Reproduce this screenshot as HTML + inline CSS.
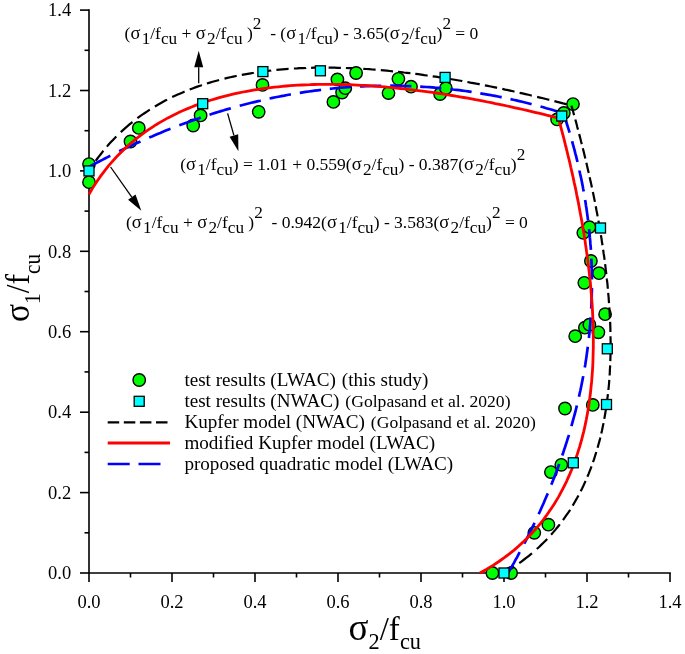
<!DOCTYPE html>
<html><head><meta charset="utf-8"><title>Biaxial failure envelope</title>
<style>
html,body{margin:0;padding:0;background:#fff;}
svg{display:block;font-family:"Liberation Serif","Times New Roman",serif;fill:#000;}
.tk{font-size:18.5px;}
.lg{font-size:19.13px;}
</style></head><body>
<svg width="685" height="654" viewBox="0 0 685 654">
<rect width="685" height="654" fill="#fff"/>

<g stroke="#000" stroke-width="1.6" fill="none" stroke-linecap="butt">
<path d="M89.0 9.3 V573.0 H670.8"/>
<path d="M89.0 573.0 v9.0"/>
<path d="M89.0 573.0 h-9.0"/>
<path d="M130.5 573.0 v4.5"/>
<path d="M89.0 532.8 h-4.5"/>
<path d="M172.0 573.0 v9.0"/>
<path d="M89.0 492.6 h-9.0"/>
<path d="M213.5 573.0 v4.5"/>
<path d="M89.0 452.4 h-4.5"/>
<path d="M255.0 573.0 v9.0"/>
<path d="M89.0 412.2 h-9.0"/>
<path d="M296.5 573.0 v4.5"/>
<path d="M89.0 371.9 h-4.5"/>
<path d="M338.0 573.0 v9.0"/>
<path d="M89.0 331.7 h-9.0"/>
<path d="M379.5 573.0 v4.5"/>
<path d="M89.0 291.5 h-4.5"/>
<path d="M421.0 573.0 v9.0"/>
<path d="M89.0 251.3 h-9.0"/>
<path d="M462.5 573.0 v4.5"/>
<path d="M89.0 211.1 h-4.5"/>
<path d="M504.0 573.0 v9.0"/>
<path d="M89.0 170.9 h-9.0"/>
<path d="M545.5 573.0 v4.5"/>
<path d="M89.0 130.7 h-4.5"/>
<path d="M587.0 573.0 v9.0"/>
<path d="M89.0 90.5 h-9.0"/>
<path d="M628.5 573.0 v4.5"/>
<path d="M89.0 50.3 h-4.5"/>
<path d="M670.0 573.0 v9.0"/>
<path d="M89.0 10.1 h-9.0"/>
</g>
<g class="tk">
<text x="89.0" y="607.6" text-anchor="middle">0.0</text>
<text x="71.2" y="579.2" text-anchor="end">0.0</text>
<text x="172.0" y="607.6" text-anchor="middle">0.2</text>
<text x="71.2" y="498.8" text-anchor="end">0.2</text>
<text x="255.0" y="607.6" text-anchor="middle">0.4</text>
<text x="71.2" y="418.4" text-anchor="end">0.4</text>
<text x="338.0" y="607.6" text-anchor="middle">0.6</text>
<text x="71.2" y="337.9" text-anchor="end">0.6</text>
<text x="421.0" y="607.6" text-anchor="middle">0.8</text>
<text x="71.2" y="257.5" text-anchor="end">0.8</text>
<text x="504.0" y="607.6" text-anchor="middle">1.0</text>
<text x="71.2" y="177.1" text-anchor="end">1.0</text>
<text x="587.0" y="607.6" text-anchor="middle">1.2</text>
<text x="71.2" y="96.7" text-anchor="end">1.2</text>
<text x="670.0" y="607.6" text-anchor="middle">1.4</text>
<text x="71.2" y="16.3" text-anchor="end">1.4</text>
</g>
<text x="348.6" y="640.2" font-size="33.00" xml:space="preserve" id="xt"><tspan dy="0.00"><tspan font-size="37.00">σ</tspan></tspan><tspan font-size="22.30" dy="8.70">2</tspan><tspan dy="-8.70">/f</tspan><tspan font-size="22.30" dy="8.70">cu</tspan></text>
<g transform="translate(28.8 322) rotate(-90) scale(0.93 1)"><text x="0.0" y="0.0" font-size="34.00" xml:space="preserve" id="yt"><tspan dy="0.00"><tspan font-size="36.00">σ</tspan></tspan><tspan font-size="23.00" dy="11.00">1</tspan><tspan dy="-11.00">/f</tspan><tspan font-size="23.00" dy="11.00">cu</tspan></text></g>
<path d="M89.0 170.9 L90.6 168.4 L92.3 165.9 L92.7 165.2 M95.7 160.9 L97.4 158.5 L99.2 156.1 L101.1 153.7 L102.9 151.4 L103.4 150.8 M106.9 146.6 L108.9 144.3 L110.9 142.1 L113.0 139.9 L115.1 137.8 L116.3 136.5 M120.8 132.1 L123.0 130.1 L125.2 128.1 L127.5 126.2 L129.8 124.2 L132.1 122.3 L132.5 122.0 M137.4 118.2 L139.8 116.4 L142.3 114.7 L144.8 113.0 L147.3 111.3 L149.8 109.6 M154.9 106.5 L157.5 105.0 L160.1 103.5 L162.7 102.0 L165.3 100.6 L167.1 99.7 M172.2 97.1 L175.0 95.8 L177.7 94.6 L180.4 93.4 L183.2 92.2 L184.6 91.6 M189.7 89.6 L192.5 88.5 L195.3 87.4 L198.1 86.4 L200.9 85.5 L201.9 85.1 M206.9 83.5 L209.8 82.6 L212.6 81.8 L215.5 81.0 L218.4 80.2 L219.1 80.0 M224.5 78.6 L227.4 77.9 L230.3 77.2 L233.2 76.6 L236.2 76.0 L236.7 75.9 M241.8 74.8 L244.8 74.3 L247.7 73.8 L250.7 73.3 L253.6 72.8 L253.9 72.7 M259.1 72.0 L262.0 71.6 L265.0 71.2 L268.0 70.8 L271.0 70.5 L271.2 70.4 M276.4 69.9 L279.4 69.6 L282.4 69.3 L285.4 69.1 L288.4 68.9 L288.6 68.9 M293.9 68.5 L296.9 68.4 L299.9 68.2 L302.9 68.1 L305.9 68.0 L306.1 67.9 M311.1 67.8 L314.1 67.7 L317.1 67.7 L320.1 67.6 L323.1 67.6 L323.4 67.6 M328.6 67.6 L331.6 67.7 L334.6 67.7 L337.6 67.8 L340.6 67.8 L340.9 67.8 M345.9 68.0 L348.9 68.1 L351.9 68.2 L354.9 68.4 L357.8 68.5 L358.1 68.6 M363.3 68.9 L366.3 69.0 L369.3 69.2 L372.3 69.5 L375.3 69.7 L375.6 69.7 M380.8 70.1 L383.8 70.4 L386.8 70.7 L389.8 71.0 L392.7 71.3 L393.0 71.3 M398.0 71.8 L400.9 72.1 L403.9 72.5 L406.9 72.8 L409.9 73.2 L410.4 73.2 M415.3 73.9 L418.3 74.2 L421.3 74.6 L424.3 75.1 L427.2 75.5 L427.7 75.5 M432.7 76.3 L435.6 76.7 L438.6 77.2 L441.6 77.6 L444.5 78.1 L445.0 78.2 M450.2 79.0 L453.2 79.5 L456.1 80.0 L459.1 80.5 L462.0 81.0 L462.3 81.1 M467.4 82.0 L470.4 82.6 L473.3 83.1 L476.3 83.7 L479.2 84.2 L479.7 84.3 M484.9 85.3 L487.8 85.9 L490.8 86.5 L493.7 87.1 L496.6 87.7 L497.1 87.8 M502.3 88.9 L505.2 89.6 L508.1 90.2 L511.1 90.8 L514.0 91.5 L514.5 91.6 M519.6 92.8 L522.5 93.4 L525.4 94.1 L528.4 94.8 L531.3 95.5 L531.8 95.6 M537.1 96.9 L540.0 97.6 L543.0 98.3 L545.9 99.0 L548.8 99.7 L549.3 99.8 M554.4 101.1 L557.3 101.9 L560.2 102.6 L563.1 103.4 L566.0 104.1 L566.7 104.3" fill="none" stroke="#000" stroke-width="2.2"/>
<g fill="#0f0" stroke="#000" stroke-width="1.4">
<circle cx="89.0" cy="164.1" r="6.2"/>
<circle cx="511.1" cy="573.0" r="6.2"/>
<circle cx="89.0" cy="182.2" r="6.2"/>
<circle cx="492.4" cy="573.0" r="6.2"/>
<circle cx="130.5" cy="141.5" r="6.2"/>
<circle cx="534.3" cy="532.8" r="6.2"/>
<circle cx="138.8" cy="127.9" r="6.2"/>
<circle cx="548.4" cy="524.7" r="6.2"/>
<circle cx="193.2" cy="125.5" r="6.2"/>
<circle cx="550.9" cy="472.1" r="6.2"/>
<circle cx="200.6" cy="115.4" r="6.2"/>
<circle cx="561.3" cy="464.8" r="6.2"/>
<circle cx="258.7" cy="111.8" r="6.2"/>
<circle cx="565.0" cy="408.5" r="6.2"/>
<circle cx="262.5" cy="84.9" r="6.2"/>
<circle cx="592.8" cy="404.9" r="6.2"/>
<circle cx="333.4" cy="101.9" r="6.2"/>
<circle cx="575.2" cy="336.2" r="6.2"/>
<circle cx="337.4" cy="79.4" r="6.2"/>
<circle cx="598.4" cy="332.3" r="6.2"/>
<circle cx="342.1" cy="92.5" r="6.2"/>
<circle cx="584.9" cy="327.7" r="6.2"/>
<circle cx="345.3" cy="88.2" r="6.2"/>
<circle cx="589.4" cy="324.7" r="6.2"/>
<circle cx="356.1" cy="73.0" r="6.2"/>
<circle cx="605.1" cy="314.2" r="6.2"/>
<circle cx="388.5" cy="93.1" r="6.2"/>
<circle cx="584.3" cy="282.8" r="6.2"/>
<circle cx="398.4" cy="78.8" r="6.2"/>
<circle cx="599.0" cy="273.2" r="6.2"/>
<circle cx="411.0" cy="86.7" r="6.2"/>
<circle cx="590.9" cy="261.0" r="6.2"/>
<circle cx="440.1" cy="94.1" r="6.2"/>
<circle cx="583.3" cy="232.8" r="6.2"/>
<circle cx="445.9" cy="88.2" r="6.2"/>
<circle cx="589.4" cy="227.2" r="6.2"/>
<circle cx="557.1" cy="119.4" r="6.2"/>
<circle cx="563.8" cy="113.0" r="6.2"/>
<circle cx="573.0" cy="104.1" r="6.2"/>
</g>
<path d="M504.0 573.0 L506.6 571.4 L509.1 569.9 L511.7 568.3 L514.2 566.6 M519.3 563.1 L521.7 561.3 L524.1 559.5 L526.5 557.7 L528.9 555.8 L531.2 553.9 L532.0 553.3 M536.8 549.0 L539.1 547.0 L541.2 544.9 L543.4 542.8 L545.5 540.7 L547.2 538.9 M551.1 534.7 L553.1 532.4 L555.1 530.1 L557.0 527.8 L558.9 525.5 L559.8 524.3 M563.0 520.1 L564.7 517.7 L566.4 515.2 L568.1 512.8 L569.8 510.3 L570.1 509.8 M572.7 505.6 L574.2 503.0 L575.7 500.4 L577.2 497.8 L578.5 495.4 M580.7 491.2 L582.1 488.5 L583.4 485.8 L584.6 483.1 L585.6 481.0 M587.4 476.7 L588.6 473.9 L589.7 471.1 L590.8 468.3 L591.5 466.4 M593.0 462.2 L594.0 459.4 L594.9 456.5 L595.8 453.7 L596.3 452.0 M597.6 447.7 L598.4 444.8 L599.2 441.9 L600.0 439.0 L600.3 437.5 M601.3 433.4 L602.0 430.5 L602.6 427.5 L603.2 424.6 L603.5 423.1 M604.3 418.9 L604.8 416.0 L605.3 413.0 L605.8 410.1 L606.0 408.6 M606.7 404.4 L607.1 401.4 L607.4 398.4 L607.8 395.5 L607.9 394.2 M608.4 390.0 L608.7 387.0 L609.0 384.0 L609.2 381.0 L609.3 379.8 M609.6 375.5 L609.8 372.6 L609.9 369.6 L610.1 366.6 L610.2 365.3 M610.3 361.1 L610.4 358.1 L610.5 355.1 L610.5 352.1 L610.5 350.8 M610.6 346.6 L610.6 343.6 L610.6 340.6 L610.5 337.6 L610.5 336.3 M610.4 332.1 L610.4 329.1 L610.3 326.1 L610.2 323.1 L610.1 321.8 M609.9 317.6 L609.8 314.6 L609.6 311.6 L609.4 308.6 L609.3 307.3 M609.0 303.1 L608.8 300.1 L608.6 297.1 L608.3 294.1 L608.2 292.9 M607.8 288.7 L607.6 285.7 L607.3 282.7 L606.9 279.7 L606.8 278.5 M606.3 274.2 L606.0 271.3 L605.6 268.3 L605.3 265.3 L605.1 264.1 M604.6 259.8 L604.2 256.9 L603.7 253.9 L603.3 250.9 L603.1 249.7 M602.5 245.2 L602.0 242.3 L601.6 239.3 L601.1 236.3 L600.9 235.1 M600.2 230.9 L599.7 228.0 L599.2 225.0 L598.7 222.1 L598.4 220.6 M597.6 216.4 L597.1 213.4 L596.5 210.5 L596.0 207.5 L595.7 206.3 M594.9 201.9 L594.3 199.0 L593.7 196.0 L593.1 193.1 L592.8 191.9 M591.9 187.5 L591.3 184.5 L590.6 181.6 L590.0 178.7 L589.6 177.2 M588.7 173.1 L588.0 170.1 L587.4 167.2 L586.7 164.3 L586.3 162.8 M585.3 158.5 L584.6 155.5 L583.9 152.6 L583.2 149.7 L582.8 148.3 M581.8 144.1 L581.0 141.2 L580.3 138.3 L579.5 135.4 L579.2 134.0 M578.0 129.6 L577.2 126.7 L576.5 123.8 L575.7 120.9 L575.3 119.5 M574.1 115.1 L573.3 112.2 L572.5 109.3 L571.7 106.5 L571.4 105.6" fill="none" stroke="#000" stroke-width="2.2"/>
<path d="M89.0 166.9 L91.6 165.5 L94.3 164.0 L96.9 162.6 L99.6 161.2 L102.3 159.9 L104.9 158.5 L107.6 157.1 L110.3 155.8 M119.2 151.3 L121.9 150.0 L124.6 148.7 L127.3 147.4 L130.1 146.2 L132.8 144.9 L135.5 143.6 L138.2 142.4 L140.5 141.4 M149.2 137.5 L152.0 136.4 L154.7 135.2 L157.5 134.0 L160.3 132.9 L163.0 131.7 L165.8 130.6 L168.6 129.5 L170.5 128.8 M179.3 125.3 L182.1 124.3 L184.9 123.2 L187.8 122.2 L190.6 121.2 L193.4 120.2 L196.2 119.2 L199.1 118.2 L200.7 117.6 M209.5 114.7 L212.4 113.8 L215.2 112.9 L218.1 112.0 L221.0 111.1 L223.8 110.3 L226.7 109.4 L229.6 108.6 L230.8 108.2 M239.7 105.8 L242.6 105.0 L245.5 104.2 L248.4 103.5 L251.3 102.8 L254.2 102.1 L257.2 101.4 L260.1 100.7 L260.8 100.5 M269.6 98.5 L272.5 97.9 L275.5 97.3 L278.4 96.7 L281.4 96.1 L284.3 95.6 L287.2 95.0 L290.2 94.5 L290.9 94.4 M299.8 92.9 L302.8 92.4 L305.7 91.9 L308.7 91.5 L311.7 91.1 L314.7 90.7 L317.6 90.3 L320.6 89.9 L321.1 89.8 M329.8 88.9 L332.8 88.5 L335.8 88.2 L338.7 88.0 L341.7 87.7 L344.7 87.5 L347.7 87.2 L350.7 87.0 L351.2 87.0 M359.9 86.5 L362.9 86.3 L365.9 86.2 L368.9 86.1 L371.9 86.0 L374.9 85.9 L377.9 85.8 L380.9 85.8 L381.2 85.8 M390.2 85.7 L393.2 85.7 L396.2 85.8 L399.2 85.8 L402.2 85.9 L405.2 86.0 L408.2 86.1 L411.2 86.2 L411.4 86.2 M420.2 86.6 L423.2 86.8 L426.2 87.0 L429.1 87.2 L432.1 87.4 L435.1 87.7 L438.1 87.9 L441.1 88.2 L441.4 88.2 M450.3 89.1 L453.3 89.5 L456.3 89.8 L459.2 90.2 L462.2 90.6 L465.2 91.0 L468.2 91.4 L471.1 91.8 L471.6 91.9 M480.3 93.3 L483.2 93.8 L486.2 94.3 L489.1 94.8 L492.1 95.4 L495.0 95.9 L498.0 96.5 L500.9 97.1 L501.7 97.2 M510.5 99.1 L513.4 99.8 L516.3 100.4 L519.2 101.1 L522.1 101.8 L525.1 102.5 L528.0 103.2 L530.9 104.0 L531.6 104.2 M540.5 106.5 L543.4 107.3 L546.3 108.2 L549.2 109.0 L552.1 109.8 L555.0 110.7 L557.8 111.6 L560.7 112.4 L561.9 112.8" fill="none" stroke="#00f" stroke-width="2.7"/>
<path d="M508.1 573.0 L509.6 570.4 L511.1 567.8 L512.6 565.2 L514.1 562.6 L515.5 559.9 L517.0 557.3 L518.4 554.7 L519.7 552.2 M524.2 543.6 L525.6 541.0 L527.0 538.3 L528.3 535.6 L529.7 532.9 L531.0 530.2 L532.3 527.5 L533.6 524.8 L534.6 522.8 M538.6 514.2 L539.9 511.5 L541.1 508.7 L542.3 506.0 L543.6 503.3 L544.7 500.5 L545.9 497.8 L547.1 495.0 L547.8 493.4 M551.3 484.8 L552.4 482.0 L553.5 479.2 L554.6 476.4 L555.7 473.6 L556.7 470.8 L557.8 468.0 L558.8 465.2 L559.2 464.0 M562.2 455.5 L563.2 452.7 L564.1 449.9 L565.1 447.0 L566.0 444.2 L566.9 441.3 L567.8 438.4 L568.7 435.6 L568.9 434.8 M571.4 426.2 L572.2 423.3 L573.0 420.4 L573.8 417.5 L574.6 414.6 L575.4 411.7 L576.1 408.8 L576.8 405.9 L576.9 405.4 M579.0 396.7 L579.6 393.7 L580.3 390.8 L580.9 387.9 L581.5 384.9 L582.1 382.0 L582.7 379.1 L583.2 376.1 M584.8 367.5 L585.3 364.5 L585.7 361.6 L586.2 358.6 L586.6 355.6 L587.0 352.7 L587.4 349.7 L587.8 346.7 M588.9 338.0 L589.2 335.0 L589.5 332.1 L589.8 329.1 L590.0 326.1 L590.3 323.1 L590.5 320.1 L590.7 317.4 M591.2 308.6 L591.4 305.6 L591.5 302.6 L591.6 299.6 L591.7 296.6 L591.8 293.6 L591.9 290.6 L591.9 287.9 M591.9 279.4 L591.9 276.4 L591.8 273.4 L591.8 270.4 L591.7 267.4 L591.6 264.4 L591.5 261.4 L591.3 258.6 M590.9 249.9 L590.7 246.9 L590.4 243.9 L590.2 240.9 L589.9 237.9 L589.7 235.0 L589.4 232.0 L589.1 229.2 M588.1 220.5 L587.7 217.6 L587.3 214.6 L586.9 211.6 L586.5 208.7 L586.0 205.7 L585.6 202.7 L585.1 200.0 M583.7 191.4 L583.1 188.4 L582.6 185.5 L582.0 182.5 L581.4 179.6 L580.8 176.7 L580.1 173.7 L579.5 170.8 L579.5 170.6 M577.5 162.0 L576.8 159.1 L576.1 156.2 L575.3 153.3 L574.6 150.4 L573.8 147.5 L573.0 144.6 L572.2 141.7 L572.1 141.2 M569.6 132.6 L568.7 129.7 L567.8 126.8 L566.9 124.0 L566.0 121.1 L565.1 118.3 L564.2 115.4 L563.5 113.3" fill="none" stroke="#00f" stroke-width="2.7"/>
<path d="M89.0 194.2 L92.9 187.6 L96.9 181.5 L100.8 175.9 L104.8 170.6 L108.7 165.7 L112.7 161.1 L116.6 156.8 L120.6 152.8 L124.5 148.9 L128.5 145.3 L132.4 141.9 L136.3 138.7 L140.3 135.6 L144.2 132.7 L148.2 129.9 L152.1 127.3 L156.1 124.7 L160.0 122.4 L164.0 120.1 L167.9 117.9 L171.8 115.9 L175.8 113.9 L179.7 112.0 L183.7 110.3 L187.6 108.6 L191.6 107.0 L195.5 105.4 L199.5 104.0 L203.4 102.6 L207.4 101.2 L211.3 100.0 L215.2 98.8 L219.2 97.7 L223.1 96.6 L227.1 95.6 L231.0 94.6 L235.0 93.7 L238.9 92.8 L242.9 92.0 L246.8 91.3 L250.7 90.6 L254.7 89.9 L258.6 89.3 L262.6 88.7 L266.5 88.1 L270.5 87.6 L274.4 87.2 L278.4 86.8 L282.3 86.4 L286.3 86.0 L290.2 85.7 L294.1 85.4 L298.1 85.2 L302.0 85.0 L306.0 84.8 L309.9 84.7 L313.9 84.5 L317.8 84.4 L321.8 84.4 L325.7 84.4 L329.7 84.4 L333.6 84.4 L337.5 84.4 L341.5 84.5 L345.4 84.6 L349.4 84.7 L353.3 84.9 L357.3 85.1 L361.2 85.3 L365.2 85.5 L369.1 85.7 L373.0 86.0 L377.0 86.3 L380.9 86.6 L384.9 86.9 L388.8 87.3 L392.8 87.7 L396.7 88.1 L400.7 88.5 L404.6 88.9 L408.6 89.4 L412.5 89.8 L416.4 90.3 L420.4 90.8 L424.3 91.3 L428.3 91.9 L432.2 92.4 L436.2 93.0 L440.1 93.6 L444.1 94.2 L448.0 94.9 L452.0 95.5 L455.9 96.2 L459.8 96.8 L463.8 97.5 L467.7 98.2 L471.7 98.9 L475.6 99.7 L479.6 100.4 L483.5 101.2 L487.5 102.0 L491.4 102.7 L495.3 103.6 L499.3 104.4 L503.2 105.2 L507.2 106.0 L511.1 106.9 L515.1 107.8 L519.0 108.6 L523.0 109.5 L526.9 110.4 L530.9 111.4 L534.8 112.3 L538.7 113.2 L542.7 114.2 L546.6 115.2 L550.6 116.1 L554.5 117.1 L558.5 118.1 L559.5 121.9 L560.5 125.8 L561.5 129.6 L562.5 133.4 L563.5 137.2 L564.5 141.1 L565.4 144.9 L566.4 148.7 L567.3 152.5 L568.2 156.3 L569.2 160.2 L570.1 164.0 L570.9 167.8 L571.8 171.6 L572.7 175.5 L573.5 179.3 L574.3 183.1 L575.2 186.9 L576.0 190.8 L576.7 194.6 L577.5 198.4 L578.3 202.2 L579.0 206.0 L579.7 209.9 L580.4 213.7 L581.1 217.5 L581.8 221.3 L582.5 225.2 L583.1 229.0 L583.8 232.8 L584.4 236.6 L585.0 240.4 L585.5 244.3 L586.1 248.1 L586.6 251.9 L587.2 255.7 L587.7 259.6 L588.2 263.4 L588.6 267.2 L589.1 271.0 L589.5 274.8 L589.9 278.7 L590.3 282.5 L590.7 286.3 L591.0 290.1 L591.3 294.0 L591.6 297.8 L591.9 301.6 L592.2 305.4 L592.4 309.2 L592.6 313.1 L592.8 316.9 L592.9 320.7 L593.1 324.5 L593.2 328.4 L593.2 332.2 L593.3 336.0 L593.3 339.8 L593.3 343.7 L593.3 347.5 L593.2 351.3 L593.1 355.1 L593.0 358.9 L592.9 362.8 L592.7 366.6 L592.5 370.4 L592.2 374.2 L591.9 378.1 L591.6 381.9 L591.2 385.7 L590.8 389.5 L590.4 393.3 L589.9 397.2 L589.4 401.0 L588.9 404.8 L588.3 408.6 L587.6 412.5 L586.9 416.3 L586.2 420.1 L585.4 423.9 L584.6 427.7 L583.7 431.6 L582.7 435.4 L581.8 439.2 L580.7 443.0 L579.6 446.9 L578.4 450.7 L577.2 454.5 L575.9 458.3 L574.5 462.1 L573.1 466.0 L571.6 469.8 L570.0 473.6 L568.3 477.4 L566.6 481.3 L564.7 485.1 L562.8 488.9 L560.8 492.7 L558.7 496.6 L556.4 500.4 L554.1 504.2 L551.6 508.0 L549.0 511.8 L546.3 515.7 L543.5 519.5 L540.5 523.3 L537.3 527.1 L533.9 531.0 L530.4 534.8 L526.7 538.6 L522.7 542.4 L518.5 546.2 L514.1 550.1 L509.3 553.9 L504.3 557.7 L498.9 561.5 L493.0 565.4 L486.7 569.2 L479.9 573.0" fill="none" stroke="#f00" stroke-width="2.8" stroke-linejoin="round"/>
<g fill="#0ff" stroke="#000" stroke-width="1.3">
<rect x="84.0" y="165.9" width="10" height="10"/>
<rect x="499.0" y="568.0" width="10" height="10"/>
<rect x="197.7" y="98.7" width="10" height="10"/>
<rect x="568.3" y="457.8" width="10" height="10"/>
<rect x="257.9" y="66.6" width="10" height="10"/>
<rect x="601.5" y="399.5" width="10" height="10"/>
<rect x="315.4" y="65.8" width="10" height="10"/>
<rect x="602.3" y="343.8" width="10" height="10"/>
<rect x="440.1" y="72.4" width="10" height="10"/>
<rect x="595.5" y="223.0" width="10" height="10"/>
<rect x="556.7" y="111.0" width="10" height="10"/>
</g>
<path d="M198.7 83.3 L198.7 67.3" stroke="#000" stroke-width="1.3" fill="none"/><path d="M198.7 50.8 L203.2 67.3 L194.2 67.3 Z" fill="#000"/>
<path d="M227.6 113.4 L233.9 135.4" stroke="#000" stroke-width="1.3" fill="none"/><path d="M238.4 151.3 L229.6 136.7 L238.2 134.2 Z" fill="#000"/>
<path d="M110.6 167.0 L131.8 197.2" stroke="#000" stroke-width="1.3" fill="none"/><path d="M141.3 210.7 L128.1 199.8 L135.5 194.6 Z" fill="#000"/>
<text x="124.6" y="38.6" font-size="17.50" xml:space="preserve" id="e1"><tspan dy="0.00">(<tspan font-size="18.50">σ</tspan></tspan><tspan font-size="17.20" dy="5.00" dx="1.25">1</tspan><tspan dy="-5.00">/f</tspan><tspan font-size="17.20" dy="5.00">cu</tspan><tspan dy="-5.00"> + <tspan font-size="18.50">σ</tspan></tspan><tspan font-size="17.20" dy="5.00" dx="1.25">2</tspan><tspan dy="-5.00">/f</tspan><tspan font-size="17.20" dy="5.00">cu</tspan><tspan dy="-5.00"> )</tspan><tspan font-size="17.20" dy="-9.50">2</tspan><tspan dy="9.50">  - (<tspan font-size="18.50">σ</tspan></tspan><tspan font-size="17.20" dy="5.00" dx="1.25">1</tspan><tspan dy="-5.00">/f</tspan><tspan font-size="17.20" dy="5.00">cu</tspan><tspan dy="-5.00">) - 3.65(<tspan font-size="18.50">σ</tspan></tspan><tspan font-size="17.20" dy="5.00" dx="1.25">2</tspan><tspan dy="-5.00">/f</tspan><tspan font-size="17.20" dy="5.00">cu</tspan><tspan dy="-5.00">)</tspan><tspan font-size="17.20" dy="-9.50">2</tspan><tspan dy="9.50"> = 0</tspan></text>
<text x="180.2" y="169.6" font-size="17.50" xml:space="preserve" id="e2"><tspan dy="0.00">(<tspan font-size="18.50">σ</tspan></tspan><tspan font-size="17.20" dy="5.00" dx="1.25">1</tspan><tspan dy="-5.00">/f</tspan><tspan font-size="17.20" dy="5.00">cu</tspan><tspan dy="-5.00">) = 1.01 + 0.559(<tspan font-size="18.50">σ</tspan></tspan><tspan font-size="17.20" dy="5.00" dx="1.25">2</tspan><tspan dy="-5.00">/f</tspan><tspan font-size="17.20" dy="5.00">cu</tspan><tspan dy="-5.00">) - 0.387(<tspan font-size="18.50">σ</tspan></tspan><tspan font-size="17.20" dy="5.00" dx="1.25">2</tspan><tspan dy="-5.00">/f</tspan><tspan font-size="17.20" dy="5.00">cu</tspan><tspan dy="-5.00">)</tspan><tspan font-size="17.20" dy="-9.50">2</tspan></text>
<text x="126.0" y="227.6" font-size="17.50" xml:space="preserve" id="e3"><tspan dy="0.00">(<tspan font-size="18.50">σ</tspan></tspan><tspan font-size="17.20" dy="5.00" dx="1.25">1</tspan><tspan dy="-5.00">/f</tspan><tspan font-size="17.20" dy="5.00">cu</tspan><tspan dy="-5.00"> + <tspan font-size="18.50">σ</tspan></tspan><tspan font-size="17.20" dy="5.00" dx="1.25">2</tspan><tspan dy="-5.00">/f</tspan><tspan font-size="17.20" dy="5.00">cu</tspan><tspan dy="-5.00"> )</tspan><tspan font-size="17.20" dy="-9.50">2</tspan><tspan dy="9.50">  - 0.942(<tspan font-size="18.50">σ</tspan></tspan><tspan font-size="17.20" dy="5.00" dx="1.25">1</tspan><tspan dy="-5.00">/f</tspan><tspan font-size="17.20" dy="5.00">cu</tspan><tspan dy="-5.00">) - 3.583(<tspan font-size="18.50">σ</tspan></tspan><tspan font-size="17.20" dy="5.00" dx="1.25">2</tspan><tspan dy="-5.00">/f</tspan><tspan font-size="17.20" dy="5.00">cu</tspan><tspan dy="-5.00">)</tspan><tspan font-size="17.20" dy="-9.50">2</tspan><tspan dy="9.50"> = 0</tspan></text>
<circle cx="139.2" cy="380" r="6.2" fill="#0f0" stroke="#000" stroke-width="1.4"/>
<rect x="134.2" y="396.3" width="10" height="10" fill="#0ff" stroke="#000" stroke-width="1.3"/>
<path d="M107.7 422.4 H167.5" fill="none" stroke="#000" stroke-width="2.2" stroke-dasharray="11.5 4.6"/>
<path d="M107.7 443 H170" fill="none" stroke="#f00" stroke-width="2.8" stroke-linejoin="round"/>
<path d="M107.7 464 H160.5" fill="none" stroke="#00f" stroke-width="2.7" stroke-dasharray="22 8.8"/>
<text id="l0" class="lg" x="184.4" y="386.3" xml:space="preserve">test results (LWAC) <tspan dx="1.2" font-size="19.1">(this study)</tspan></text>
<text id="l1" class="lg" x="184.4" y="407.3" xml:space="preserve">test results (NWAC) <tspan dx="1.2" font-size="17.6">(Golpasand et al. 2020)</tspan></text>
<text id="l2" class="lg" x="184.4" y="428.3" xml:space="preserve">Kupfer model (NWAC) <tspan dx="1.2" font-size="17.6">(Golpasand et al. 2020)</tspan></text>
<text id="l3" class="lg" x="184.4" y="449.0" xml:space="preserve">modified Kupfer model (LWAC)<tspan dx="1.2" font-size="19.0"></tspan></text>
<text id="l4" class="lg" x="184.4" y="469.7" xml:space="preserve">proposed quadratic model (LWAC)<tspan dx="1.2" font-size="19.0"></tspan></text>
</svg></body></html>
